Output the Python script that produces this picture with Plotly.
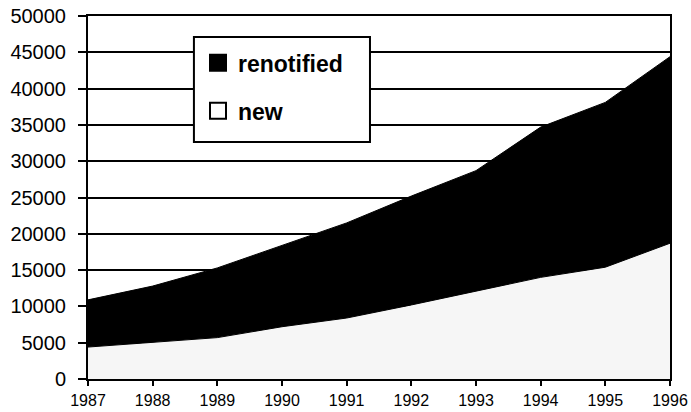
import plotly.graph_objects as go

years = [1987, 1988, 1989, 1990, 1991, 1992, 1993, 1994, 1995, 1996]
new = [4400, 5100, 5700, 7200, 8400, 10200, 12100, 14000, 15400, 18700]
renotified = [6500, 7700, 9600, 11200, 13100, 15000, 16600, 20700, 22700, 25700]
y_ticks = [0, 5000, 10000, 15000, 20000, 25000, 30000, 35000, 40000, 45000, 50000]

FONT = "Liberation Sans, Arial, sans-serif"

fig = go.Figure()
fig.add_trace(go.Scatter(x=years, y=new, stackgroup="s", mode="lines",
                         line=dict(color="black", width=1), fillcolor="#f6f6f6",
                         name="new", showlegend=False))
fig.add_trace(go.Scatter(x=years, y=renotified, stackgroup="s", mode="lines",
                         line=dict(color="black", width=1), fillcolor="black",
                         name="renotified", showlegend=False))
# legend entries
fig.add_trace(go.Scatter(x=[None], y=[None], mode="markers", name="renotified",
                         marker=dict(symbol="square", size=16, color="black",
                                     line=dict(color="black", width=2)),
                         legendgroup="a"))
fig.add_trace(go.Scatter(x=[None], y=[None], mode="markers", name="new",
                         marker=dict(symbol="square", size=16, color="white",
                                     line=dict(color="black", width=2)),
                         legendgroup="b"))

# legend frame
fig.add_shape(type="rect", xref="paper", yref="paper",
              x0=0.182, x1=0.4845, y0=0.653, y1=0.942,
              fillcolor="white", line=dict(color="black", width=2), layer="above")

fig.update_layout(
    width=691, height=412,
    margin=dict(l=88, r=21, t=16, b=33),
    paper_bgcolor="white", plot_bgcolor="white",
    font=dict(family=FONT, color="black"),
    legend=dict(x=0.189, y=0.93, xanchor="left", yanchor="top",
                bgcolor="rgba(0,0,0,0)", borderwidth=0,
                font=dict(size=23, family=FONT, color="black", weight="bold"),
                traceorder="grouped", tracegroupgap=15, itemsizing="trace"),
    xaxis=dict(range=[1987, 1996], tickvals=years, ticktext=[str(y) for y in years],
               showgrid=False, zeroline=False, showline=True, linecolor="black",
               linewidth=2, mirror=True, ticks="outside", ticklen=5, tickwidth=2,
               tickcolor="black", tickfont=dict(size=16, family=FONT),
               ticklabelstandoff=1, automargin=False),
    yaxis=dict(range=[0, 50000], tickvals=y_ticks, ticktext=[str(v) for v in y_ticks],
               showgrid=True, gridcolor="black", gridwidth=1.5, zeroline=False,
               showline=True, linecolor="black", linewidth=2, mirror=True,
               ticks="outside", ticklen=8, tickwidth=2, tickcolor="black",
               tickfont=dict(size=20, family=FONT), ticklabelstandoff=8,
               automargin=False),
)

fig.write_html("out.html", config={"displayModeBar": False},
               post_script="document.body.style.margin='0px';document.body.style.overflow='hidden';")
